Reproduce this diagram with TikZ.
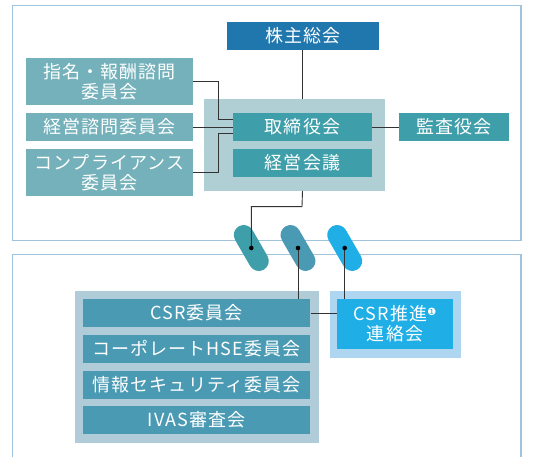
\documentclass[tikz,border=0pt]{standalone}
\usepackage{fontspec}
\setmainfont{Noto Sans CJK JP}[LetterSpace=6]
\newfontfamily\dejavu{DejaVu Sans}
\definecolor{frameC}{HTML}{A0C4DC}
\definecolor{kabuC}{HTML}{2077AE}
\definecolor{tealC}{HTML}{3E9EA9}
\definecolor{ltealC}{HTML}{74B1BA}
\definecolor{grayA}{HTML}{B0CFD5}
\definecolor{grayB}{HTML}{B0CCD8}
\definecolor{csrC}{HTML}{4A9AB4}
\definecolor{suiC}{HTML}{1FAEE5}
\definecolor{outC}{HTML}{AED6F1}
\definecolor{lineC}{HTML}{333333}
\begin{document}
\begin{tikzpicture}[x=1pt,y=-1pt,
  box/.style={inner sep=0pt,text=white,align=center,font=\fontsize{18}{20}\selectfont},
  panel/.style={inner sep=0pt},
  conn/.style={draw=lineC,line width=0.9pt},
  pill/.style={rounded corners=10pt,minimum width=50pt,minimum height=20pt,inner sep=0pt,rotate=-60},
  dotn/.style={circle,fill=black,minimum size=4.6pt,inner sep=0pt}]
\useasboundingbox (0,0) rectangle (544,457);
% frames
\draw[frameC,line width=1.5pt] (12.7,5.3) rectangle (521,240.5);
\begin{scope}
\clip (0,0) rectangle (544,457);
\draw[frameC,line width=1.5pt] (12.7,254.7) rectangle (521,480);
\end{scope}
% top section
\node[panel,fill=grayA,minimum width=181pt,minimum height=91.7pt] (box1) at (294.8,144.85) {};
\node[box,fill=kabuC,minimum width=152pt,minimum height=28pt] (kabu) at (302.7,36) {株主総会};
\node[box,fill=tealC,minimum width=138.4pt,minimum height=27.4pt] (tori) at (302.5,127) {取締役会};
\node[box,fill=tealC,minimum width=138.4pt,minimum height=27.7pt] (kaigi) at (302.5,162.85) {経営会議};
\node[box,fill=tealC,minimum width=110.6pt,minimum height=27.4pt] (kansa) at (454,127) {監査役会};
\node[box,fill=ltealC,minimum width=166.7pt,minimum height=46.7pt] (shimei) at (109.3,81.3) {指名・報酬諮問\\委員会};
\node[box,fill=ltealC,minimum width=166.7pt,minimum height=27.4pt] (shimon) at (109.3,127) {経営諮問委員会};
\node[box,fill=ltealC,minimum width=166.7pt,minimum height=46.7pt] (comp) at (109.3,172.3) {コンプライアンス\\委員会};
% bottom section
\node[panel,fill=grayB,minimum width=244pt,minimum height=151.7pt] (box2) at (197,366.85) {};
\node[box,fill=csrC,minimum width=227.6pt,minimum height=28pt] (csr) at (196.5,313) {CSR委員会};
\node[box,fill=csrC,minimum width=227.6pt,minimum height=28pt] (hse) at (196.5,349) {コーポレートHSE委員会};
\node[box,fill=csrC,minimum width=227.6pt,minimum height=28pt] (info) at (196.5,385) {情報セキュリティ委員会};
\node[box,fill=csrC,minimum width=227.6pt,minimum height=28pt] (ivas) at (196.5,420) {IVAS審査会};
\node[panel,fill=outC,minimum width=131.3pt,minimum height=66.7pt] (outer) at (395.35,324.35) {};
\node[box,fill=suiC,minimum width=115.4pt,minimum height=50pt] (sui) at (395,324) {CSR推進{\dejavu\fontsize{10}{10}\selectfont\raisebox{5pt}{❶}}\\連絡会};
% pills
\node[pill,fill=tealC] (pill1) at (251.3,248) {};
\node[pill,fill=csrC] (pill2) at (298,248) {};
\node[pill,fill=suiC] (pill3) at (344.7,248) {};
% connectors
\coordinate (elb) at (302,206.7);
\draw[conn] (kabu.south) -- (kabu.south |- box1.north);
\draw[conn] (tori.center |- box1.south) -- (elb) -| (pill1.center);
\draw[conn] (shimei.east) -| ([xshift=-14.3pt,yshift=7.7pt]tori.west) -- ([yshift=7.7pt]tori.west);
\draw[conn] (shimon.east) -- (tori.west);
\draw[conn] (comp.east) -| ([xshift=-14.3pt,yshift=-6.3pt]tori.west) -- ([yshift=-6.3pt]tori.west);
\draw[conn] (tori.east) -- (kansa.west);
\draw[conn] (pill2.center) -- (pill2.center |- csr.north);
\draw[conn] (pill3.center) -- (pill3.center |- sui.north);
\draw[conn] (csr.east) -- (sui.west |- csr.east);
\node[dotn] (d1) at (pill1.center) {};
\node[dotn] (d2) at (pill2.center) {};
\node[dotn] (d3) at (pill3.center) {};
\end{tikzpicture}
\end{document}
